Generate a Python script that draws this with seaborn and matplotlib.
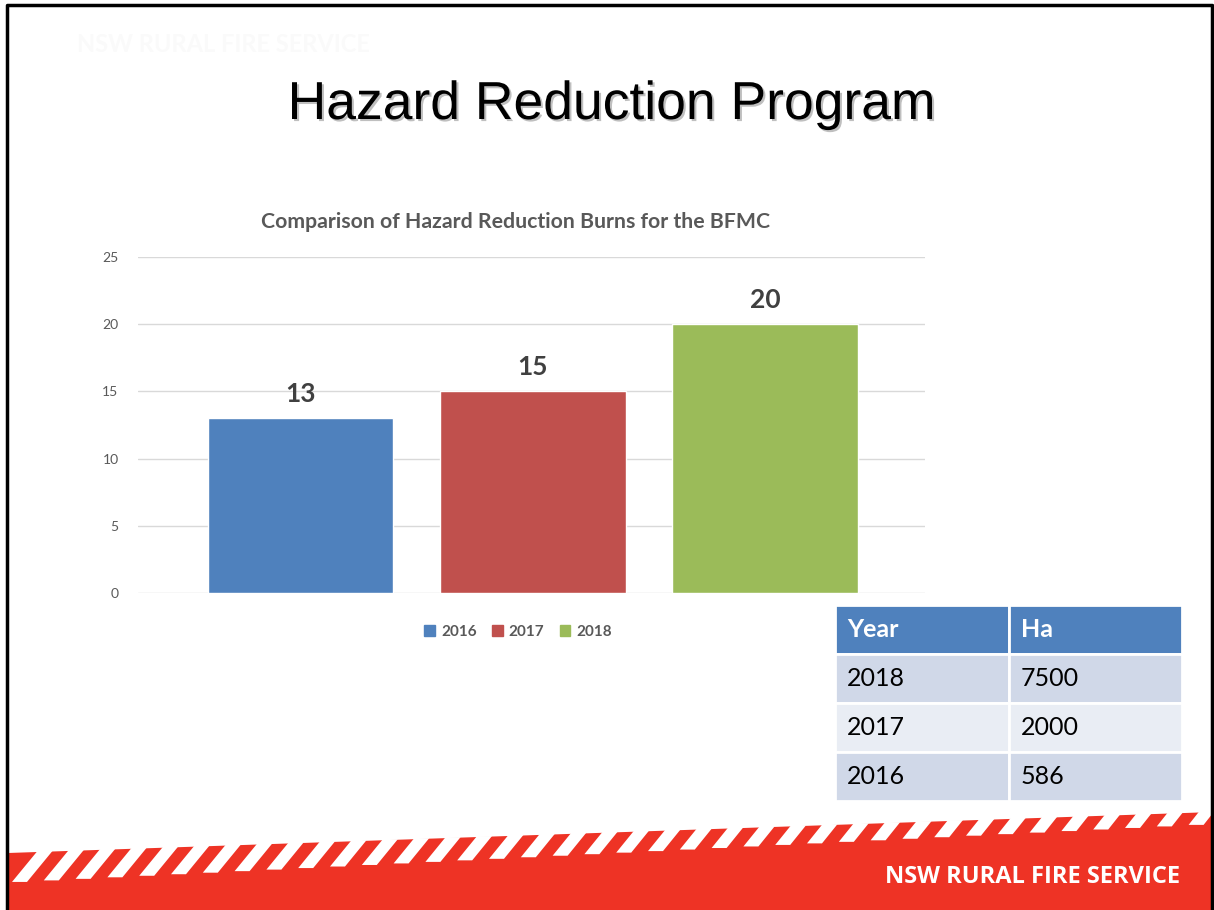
import matplotlib
matplotlib.use('Agg')
import matplotlib.pyplot as plt
import matplotlib.patheffects as pe
from matplotlib.patches import Patch, Polygon
import seaborn as sns

# chart data
years = ['2016', '2017', '2018']
burns = [13, 15, 20]
bar_colors = ['#4F81BD', '#C0504D', '#9BBB59']

# table data
table_years = ['2018', '2017', '2016']
hectares = [7500, 2000, 586]

sns.set_style("white")
plt.rcParams['font.family'] = ['Lato', 'DejaVu Sans']

fig = plt.figure(figsize=(12.14, 9.10), dpi=100)

# slide background: border, footer band
bg = fig.add_axes([0, 0, 1, 1])
bg.set_xlim(0, 1214)
bg.set_ylim(910, 0)
bg.axis('off')

red = '#EE3325'
def top_line(x):
    return 853 - 41 * (x - 8) / 1206

def depth(x):
    return 30 - 18 * (x - 8) / 1206

bg.add_patch(Polygon([(8, top_line(8)), (1214, top_line(1214)), (1214, 910), (8, 910)],
                     closed=True, color=red, lw=0))
x0 = 12
while x0 < 1214:
    d = depth(x0)
    s = d * 0.85
    yt = top_line(x0 + s)
    yb = yt + d
    bg.add_patch(Polygon([(x0, yb), (x0 + 15, yb), (x0 + 15 + s, yt - 1), (x0 + s, yt - 1)],
                         closed=True, color='white', lw=0))
    x0 += 31.8

bg.plot([7, 7, 1212, 1212], [910, 5, 5, 910], color='black', lw=2.5)

bg.text(1180, 877, 'NSW RURAL FIRE SERVICE', color='white', fontsize=17,
        fontweight='bold', ha='right', va='center', family=['Open Sans', 'DejaVu Sans'])
bg.text(77, 45, 'NSW RURAL FIRE SERVICE', color='#FAFAFA', fontsize=17,
        fontweight='bold', ha='left', va='center')

# slide title
fig.text(612 / 1214, 1 - 105 / 910, 'Hazard Reduction Program', fontsize=38.5,
         ha='center', va='center', color='black', family=['Liberation Sans', 'DejaVu Sans'],
         path_effects=[pe.withSimplePatchShadow(offset=(1.5, -1.5), shadow_rgbFace='#808080', alpha=0.5)])

# bar chart
ax = fig.add_axes([138 / 1214, 1 - 593 / 910, 787 / 1214, 336 / 910])
sns.barplot(x=years, y=burns, hue=years, palette=bar_colors, saturation=1,
            width=0.8, legend=False, ax=ax)
for cont in ax.containers:
    ax.bar_label(cont, padding=9, fontsize=19, fontweight='bold', color='#404040')

ax.set_ylim(0, 25)
ax.set_xlim(-0.7, 2.69)
ax.set_yticks(range(0, 26, 5))
ax.set_xticks([])
ax.set_xlabel('')
ax.set_ylabel('')
ax.yaxis.grid(True, color='#D9D9D9', lw=1)
ax.set_axisbelow(True)
sns.despine(ax=ax, left=True, bottom=True)
ax.tick_params(axis='y', length=0, pad=14, labelsize=10, labelcolor='#595959')

handles = [Patch(color=c) for c in bar_colors]
ax.legend(handles, years, loc='center', bbox_to_anchor=(0.483, -0.116), ncol=3,
          frameon=False, handlelength=0.7, handleheight=0.7, handletextpad=0.4,
          columnspacing=1.0, prop={'size': 11, 'weight': 'bold'}, labelcolor='#595959')

fig.text(516 / 1214, 1 - 222 / 910, 'Comparison of Hazard Reduction Burns for the BFMC',
         ha='center', va='center', fontsize=15.3, fontweight='bold', color='#595959')

# hectares table
tax = fig.add_axes([835 / 1214, 1 - 801 / 910, 347 / 1214, 196 / 910])
tax.axis('off')
cells = [[y, str(h)] for y, h in zip(table_years, hectares)]
tbl = tax.table(cellText=cells, colLabels=['Year', 'Ha'], bbox=[0, 0, 1, 1],
                cellLoc='left', colLoc='left')
tbl.auto_set_font_size(False)
tbl.set_fontsize(18)
row_colors = ['#D0D8E8', '#E9EDF4', '#D0D8E8']
for (r, c), cell in tbl.get_celld().items():
    cell.set_edgecolor('white')
    cell.set_linewidth(2)
    cell.PAD = 0.07
    if r == 0:
        cell.set_facecolor('#4F81BD')
        cell.get_text().set_color('white')
        cell.get_text().set_fontweight('bold')
    else:
        cell.set_facecolor(row_colors[r - 1])
        cell.get_text().set_color('black')

fig.savefig('out.png', dpi=100)
